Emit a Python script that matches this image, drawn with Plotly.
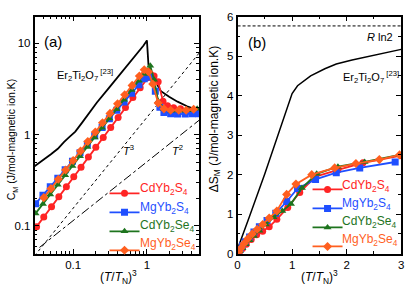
import plotly.graph_objects as go

# ---------------- Panel (a): C_M vs (T/TN)^3 (log-log) ----------------
er_a_x = [0.03, 0.035, 0.04, 0.05, 0.062, 0.075, 0.09, 0.107, 0.13, 0.16, 0.21, 0.3, 0.45, 0.7, 0.9, 1.0, 1.05, 1.2, 1.55, 2.0, 2.6, 3.5, 5.0]
er_a_y = [0.45, 0.49, 0.53, 0.61, 0.70, 0.83, 0.95, 1.08, 1.33, 1.68, 2.25, 3.2, 4.8, 7.3, 9.5, 10.8, 5.8, 4.3, 3.0, 2.6, 2.3, 2.05, 1.85]

cds_a_x = [0.032, 0.040, 0.051, 0.064, 0.081, 0.102, 0.128, 0.161, 0.203, 0.256, 0.323, 0.407, 0.512, 0.645, 0.81, 1.02, 1.12, 1.25, 1.42, 1.65, 1.9, 2.3, 2.85, 3.6, 4.5]
cds_a_y = [0.098, 0.125, 0.162, 0.208, 0.268, 0.345, 0.44, 0.57, 0.73, 0.93, 1.2, 1.54, 1.98, 2.55, 3.26, 4.2, 4.6, 4.4, 3.8, 2.33, 2.07, 1.97, 1.92, 1.83, 1.83]

mgs_a_x = [0.031, 0.039, 0.049, 0.062, 0.078, 0.098, 0.124, 0.156, 0.196, 0.247, 0.31, 0.39, 0.49, 0.62, 0.78, 0.92, 1.1, 1.3, 1.5, 1.7, 2.1, 2.6, 3.3, 4.1, 5.0]
mgs_a_y = [0.175, 0.217, 0.268, 0.333, 0.413, 0.511, 0.635, 0.786, 0.97, 1.20, 1.49, 1.85, 2.28, 2.84, 3.52, 4.1, 4.3, 3.0, 2.0, 1.75, 1.7, 1.68, 1.68, 1.7, 1.7]

cdse_a_x = [0.031, 0.039, 0.049, 0.062, 0.078, 0.098, 0.124, 0.156, 0.196, 0.247, 0.31, 0.39, 0.49, 0.62, 0.78, 0.92, 1.11, 1.25, 1.42, 1.7, 2.15, 2.8, 3.6, 4.8]
cdse_a_y = [0.137, 0.174, 0.221, 0.282, 0.358, 0.453, 0.58, 0.734, 0.933, 1.19, 1.50, 1.90, 2.41, 3.08, 3.9, 4.64, 5.7, 4.0, 2.33, 1.92, 1.83, 1.83, 1.85, 1.92]

mgse_a_x = [0.040, 0.050, 0.063, 0.079, 0.10, 0.126, 0.158, 0.2, 0.25, 0.316, 0.4, 0.5, 0.63, 0.79, 0.92, 1.05, 1.2, 1.42, 1.7, 2.1, 2.7, 3.4, 4.3]
mgse_a_y = [0.204, 0.256, 0.325, 0.41, 0.52, 0.66, 0.84, 1.07, 1.35, 1.71, 2.18, 2.74, 3.47, 4.4, 5.15, 4.9, 3.6, 2.22, 1.92, 1.85, 1.85, 1.85, 1.9]

t3_x = [0.03, 5.1]
t3_y = [0.047, 7.85]
t2_x = [0.035, 5.1]
t2_y = [0.058, 1.44]

# ---------------- Panel (b): Delta S_M vs (T/TN)^3 (linear) ----------------
er_b_x = [0, 0.05, 0.2, 0.5, 0.8, 1.0, 1.1, 1.34, 1.6, 1.81, 2.1, 2.42, 2.7, 3.0]
er_b_y = [0.12, 0.32, 0.87, 2.02, 3.25, 4.05, 4.25, 4.5, 4.68, 4.8, 4.9, 5.0, 5.09, 5.17]

rln2_x = [0, 3]
rln2_y = [5.763, 5.763]

cds_b_x = [0, 0.04, 0.09, 0.16, 0.25, 0.35, 0.46, 0.58, 0.72, 0.92, 1.14, 1.43, 1.84, 2.3, 3.0]
cds_b_y = [0, 0.05, 0.13, 0.24, 0.36, 0.48, 0.57, 0.68, 0.87, 1.17, 1.55, 1.95, 2.12, 2.3, 2.48]

mgs_b_x = [0, 0.02, 0.05, 0.09, 0.14, 0.22, 0.30, 0.40, 0.54, 0.70, 0.90, 1.10, 1.43, 1.81, 2.24, 2.89]
mgs_b_y = [0, 0.05, 0.12, 0.2, 0.3, 0.42, 0.55, 0.68, 0.84, 1.02, 1.32, 1.65, 1.88, 2.05, 2.17, 2.32]

cdse_b_x = [0, 0.04, 0.09, 0.15, 0.22, 0.30, 0.40, 0.52, 0.66, 0.82, 0.98, 1.18, 1.45, 1.84, 2.33, 2.97]
cdse_b_y = [0, 0.06, 0.14, 0.24, 0.34, 0.45, 0.58, 0.74, 0.92, 1.08, 1.26, 1.66, 2.02, 2.2, 2.32, 2.5]

mgse_b_x = [0, 0.03, 0.07, 0.12, 0.19, 0.27, 0.36, 0.46, 0.58, 0.72, 0.90, 1.07, 1.36, 1.78, 2.17, 2.6, 2.97]
mgse_b_y = [0, 0.06, 0.15, 0.26, 0.38, 0.5, 0.62, 0.74, 0.9, 1.08, 1.5, 1.76, 2.0, 2.17, 2.28, 2.38, 2.5]

names = ["CdYb<sub>2</sub>S<sub>4</sub>", "MgYb<sub>2</sub>S<sub>4</sub>",
         "CdYb<sub>2</sub>Se<sub>4</sub>", "MgYb<sub>2</sub>Se<sub>4</sub>"]
colors = ["#FF2424", "#1F4FFF", "#1E741E", "#FF5F1F"]
symbols = ["circle", "square", "triangle-up", "diamond"]

FONT = "Arial, Liberation Sans, sans-serif"

fig = go.Figure()

# Panel (a) lines
fig.add_trace(go.Scatter(x=er_a_x, y=er_a_y, mode="lines", line=dict(color="black", width=1.8),
                         showlegend=False, xaxis="x", yaxis="y"))
fig.add_trace(go.Scatter(x=t3_x, y=t3_y, mode="lines", line=dict(color="black", width=1, dash="3px,3px"),
                         showlegend=False, xaxis="x", yaxis="y"))
fig.add_trace(go.Scatter(x=t2_x, y=t2_y, mode="lines", line=dict(color="black", width=1, dash="dashdot"),
                         showlegend=False, xaxis="x", yaxis="y"))

series_a = [(cds_a_x, cds_a_y), (mgs_a_x, mgs_a_y), (cdse_a_x, cdse_a_y), (mgse_a_x, mgse_a_y)]
series_b = [(cds_b_x, cds_b_y), (mgs_b_x, mgs_b_y), (cdse_b_x, cdse_b_y), (mgse_b_x, mgse_b_y)]

# legend symbols come from the plotly legend; the legend labels are drawn as coloured text
for i, (sx, sy) in enumerate(series_a):
    fig.add_trace(go.Scatter(
        x=sx, y=sy, mode="lines+markers",
        line=dict(color=colors[i], width=1.8),
        marker=dict(symbol=symbols[i], size=7, color=colors[i]),
        name="\u00a0", legend="legend", xaxis="x", yaxis="y"))

# Panel (b)
fig.add_trace(go.Scatter(x=er_b_x, y=er_b_y, mode="lines", line=dict(color="black", width=1.5),
                         showlegend=False, xaxis="x2", yaxis="y2"))
fig.add_trace(go.Scatter(x=rln2_x, y=rln2_y, mode="lines", line=dict(color="black", width=1, dash="3px,2px"),
                         showlegend=False, xaxis="x2", yaxis="y2"))
for i, (sx, sy) in enumerate(series_b):
    fig.add_trace(go.Scatter(
        x=sx, y=sy, mode="lines+markers",
        line=dict(color=colors[i], width=1.8),
        marker=dict(symbol=symbols[i], size=7, color=colors[i]),
        name="\u00a0", legend="legend2", xaxis="x2", yaxis="y2"))

W, H = 416, 300
xa_dom = [32 / W, 199 / W]
xb_dom = [238 / W, 404 / W]
y_dom = [1 - 258 / H, 1 - 11 / H]

common = dict(showline=True, linecolor="black", linewidth=1.5, mirror="allticks",
              ticks="inside", ticklen=5, tickwidth=1.2, tickcolor="black",
              showgrid=False, zeroline=False,
              tickfont=dict(family=FONT, size=11.5, color="black"))

fig.update_layout(
    width=W, height=H, margin=dict(l=0, r=0, t=0, b=0),
    paper_bgcolor="white", plot_bgcolor="white",
    font=dict(family=FONT, size=12, color="black"),
    xaxis=dict(type="log", domain=xa_dom, anchor="y",
               range=[-1.523, 0.7076], tickvals=[0.1, 1], ticktext=["0.1", "1"],
               minor=dict(ticks="inside", ticklen=3, tickcolor="black",
                          tickvals=[0.03, 0.04, 0.05, 0.06, 0.07, 0.08, 0.09,
                                    0.2, 0.3, 0.4, 0.5, 0.6, 0.7, 0.8, 0.9, 2, 3, 4, 5]),
               **common),
    yaxis=dict(type="log", domain=y_dom, anchor="x",
               range=[-1.305, 1.295], tickvals=[0.1, 1, 10], ticktext=["0.1", "1", "10"],
               minor=dict(ticks="inside", ticklen=3, tickcolor="black",
                          tickvals=[0.05, 0.06, 0.07, 0.08, 0.09, 0.2, 0.3, 0.4, 0.5, 0.6,
                                    0.7, 0.8, 0.9, 2, 3, 4, 5, 6, 7, 8, 9, 20]),
               **common),
    xaxis2=dict(domain=xb_dom, anchor="y2", range=[0, 3], dtick=1,
                minor=dict(ticks="inside", ticklen=3, tickcolor="black", dtick=0.5),
                **common),
    yaxis2=dict(domain=y_dom, anchor="x2", range=[0, 6], dtick=1,
                minor=dict(ticks="inside", ticklen=3, tickcolor="black", dtick=0.5),
                **common),
    legend=dict(x=103 / W, y=1 - 180 / H, xanchor="left", yanchor="top",
                bgcolor="rgba(0,0,0,0)", font=dict(family=FONT, size=10),
                itemwidth=30, tracegroupgap=0),
    legend2=dict(x=309 / W, y=1 - 176 / H, xanchor="left", yanchor="top",
                 bgcolor="rgba(0,0,0,0)", font=dict(family=FONT, size=10),
                 itemwidth=30, tracegroupgap=0),
)

ann = []
def A(text, x, y, size=12, angle=0, xanchor="center", color="black"):
    ann.append(dict(text=text, x=x / W, y=1 - y / H, xref="paper", yref="paper",
                    showarrow=False, textangle=angle, xanchor=xanchor, yanchor="middle",
                    font=dict(family=FONT, size=size, color=color)))

A("(a)", 51, 37, size=15)
A("(b)", 258, 38, size=15)
A("Er<sub>2</sub>Ti<sub>2</sub>O<sub>7</sub><sup> [23]</sup>", 53, 72, size=11, xanchor="left")
A("Er<sub>2</sub>Ti<sub>2</sub>O<sub>7</sub><sup> [23]</sup>", 343, 74, size=11, xanchor="left")
A("<i>R</i> ln2", 383, 32, size=11)
A("<i>T</i><sup>3</sup>", 127, 150, size=11)
A("<i>T</i><sup>2</sup>", 177, 150, size=11)
A("C<sub>M</sub> (J/mol-magnetic ion.K)", 10, 139, size=10.5, angle=-90)
A("ΔS<sub>M</sub> (J/mol-magnetic ion.K)", 215, 118, size=12, angle=-90)
A("(<i>T</i>/<i>T</i><sub>N</sub>)<sup>3</sup>", 117, 282, size=12)
A("(<i>T</i>/<i>T</i><sub>N</sub>)<sup>3</sup>", 321, 282, size=12)

leg_a_rows = [191, 210, 229, 248]
leg_b_rows = [187, 206, 225, 244]
for i in range(4):
    A(names[i], 137, leg_a_rows[i], size=12, xanchor="left", color=colors[i])
    A(names[i], 342, leg_b_rows[i], size=12, xanchor="left", color=colors[i])

fig.update_layout(annotations=ann)

fig.write_html("out.html", config={"displayModeBar": False},
               post_script="document.body.style.margin='0';document.body.style.overflow='hidden';")
